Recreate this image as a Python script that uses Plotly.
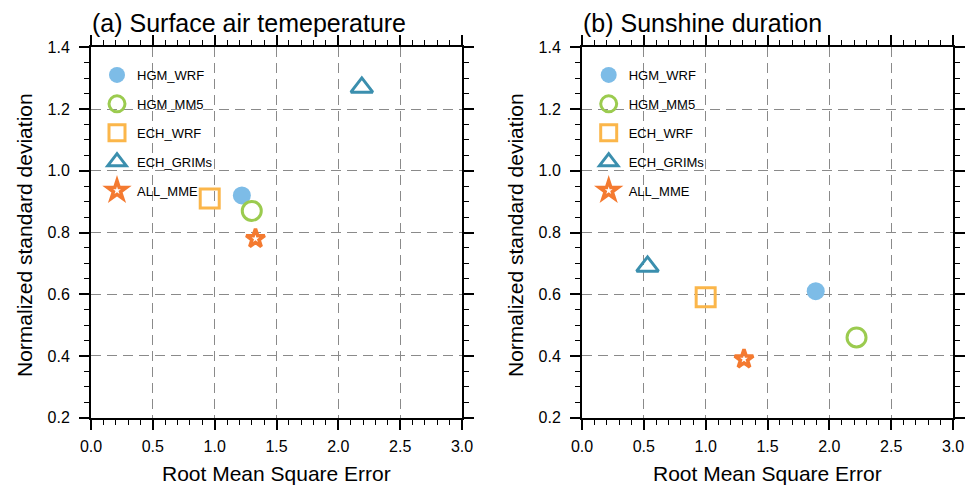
import plotly.graph_objects as go

# ---------------- data ----------------
models = ["HGM_WRF", "HGM_MM5", "ECH_WRF", "ECH_GRIMs", "ALL_MME"]
rmse_tas = [1.22, 1.30, 0.96, 2.19, 1.33]
std_tas = [0.92, 0.87, 0.91, 1.27, 0.78]
rmse_ssd = [1.89, 2.22, 1.00, 0.53, 1.31]
std_ssd = [0.61, 0.46, 0.59, 0.69, 0.39]
panel_titles = ["(a) Surface air temeperature", "(b) Sunshine duration"]
x_title = "Root Mean Square Error"
y_title = "Normalized standard deviation"
x_tick_vals = [0.0, 0.5, 1.0, 1.5, 2.0, 2.5, 3.0]
x_tick_text = ["0.0", "0.5", "1.0", "1.5", "2.0", "2.5", "3.0"]
y_tick_vals = [0.2, 0.4, 0.6, 0.8, 1.0, 1.2, 1.4]
y_tick_text = ["0.2", "0.4", "0.6", "0.8", "1.0", "1.2", "1.4"]

# ---------------- styles ----------------
symbols = ["circle", "circle-open", "square-open", "triangle-up-open", "star-open"]
colors = ["#7dbce7", "#9bcb4f", "#fbb64a", "#3b8fae", "#f47a30"]
sizes = [18, 19, 19, 19, 14]
line_widths = [0, 3, 3, 3, 3.5]

FONT = "Liberation Sans, Arial, Helvetica, sans-serif"
W, H = 976, 485
OFF = 8  # page body margin


def px(x):
    return (x - OFF) / W


def py(y):
    return (H - (y - OFF)) / H


fig = go.Figure()

panels = [
    (rmse_tas, std_tas, "x", "y", "legend"),
    (rmse_ssd, std_ssd, "x2", "y2", "legend2"),
]
for p, (xs, ys, xa, ya, lg) in enumerate(panels):
    for i, m in enumerate(models):
        fig.add_trace(go.Scatter(
            x=[xs[i]], y=[ys[i]], mode="markers", name=m,
            xaxis=xa, yaxis=ya, legend=lg, legendgroup=f"p{p}_{m}",
            marker=dict(symbol=symbols[i], size=sizes[i], color=colors[i],
                        line=dict(width=line_widths[i], color=colors[i])),
            showlegend=True,
        ))

axis_common = dict(
    showline=True, linecolor="black", linewidth=2, mirror="ticks",
    ticks="outside", ticklen=10, tickwidth=1.6, tickcolor="black",
    showgrid=True, gridcolor="#8a8a8a", gridwidth=1.2, griddash="10px,6px",
    zeroline=False, tickfont=dict(size=16, color="black", family=FONT),
    fixedrange=True, automargin=False,
)
xaxis_common = dict(axis_common, range=[0, 3], tickvals=x_tick_vals, ticktext=x_tick_text,
                    ticklabelstandoff=3,
                    minor=dict(tickvals=[round(0.1 * k, 1) for k in range(31)],
                               ticks="outside", ticklen=5, tickwidth=1, tickcolor="black",
                               showgrid=False))
yaxis_common = dict(axis_common, range=[0.2, 1.4], tickvals=y_tick_vals, ticktext=y_tick_text,
                    ticklabelstandoff=6,
                    minor=dict(tickvals=[round(0.2 + 0.05 * k, 2) for k in range(25)],
                               ticks="outside", ticklen=5, tickwidth=1, tickcolor="black",
                               showgrid=False))

xd1 = [px(91), px(462)]
xd2 = [px(582), px(953)]
yd = [py(417.7), py(47.3)]

legend_common = dict(
    bgcolor="rgba(0,0,0,0)", font=dict(size=13, color="black", family=FONT),
    tracegroupgap=9, xanchor="left", yanchor="top", itemclick=False,
)

fig.update_layout(
    width=W, height=H,
    margin=dict(l=0, r=0, t=0, b=0, autoexpand=False),
    paper_bgcolor="white", plot_bgcolor="white",
    font=dict(family=FONT, color="black"),
    xaxis=dict(xaxis_common, domain=xd1, anchor="y"),
    yaxis=dict(yaxis_common, domain=yd, anchor="x"),
    xaxis2=dict(xaxis_common, domain=xd2, anchor="y2"),
    yaxis2=dict(yaxis_common, domain=yd, anchor="x2"),
    legend=dict(legend_common, x=px(97), y=py(60)),
    legend2=dict(legend_common, x=px(588.7), y=py(60)),
)

annotations = []
for p, (left, right, tx) in enumerate([(91, 462, 90), (582, 953, 581)]):
    annotations.append(dict(text=panel_titles[p], xref="paper", yref="paper",
                            x=px(tx), y=py(23), xanchor="left", yanchor="middle",
                            showarrow=False, font=dict(size=25, color="black", family=FONT)))
    annotations.append(dict(text=x_title, xref="paper", yref="paper",
                            x=px((left + right) / 2), y=py(473), xanchor="center",
                            yanchor="middle", showarrow=False,
                            font=dict(size=21, color="black", family=FONT)))
    annotations.append(dict(text=y_title, xref="paper", yref="paper",
                            x=px(left - 67), y=py(235), xanchor="center",
                            yanchor="middle", textangle=-90, showarrow=False,
                            font=dict(size=21, color="black", family=FONT)))
fig.update_layout(annotations=annotations)

fig.write_html("out.html")
